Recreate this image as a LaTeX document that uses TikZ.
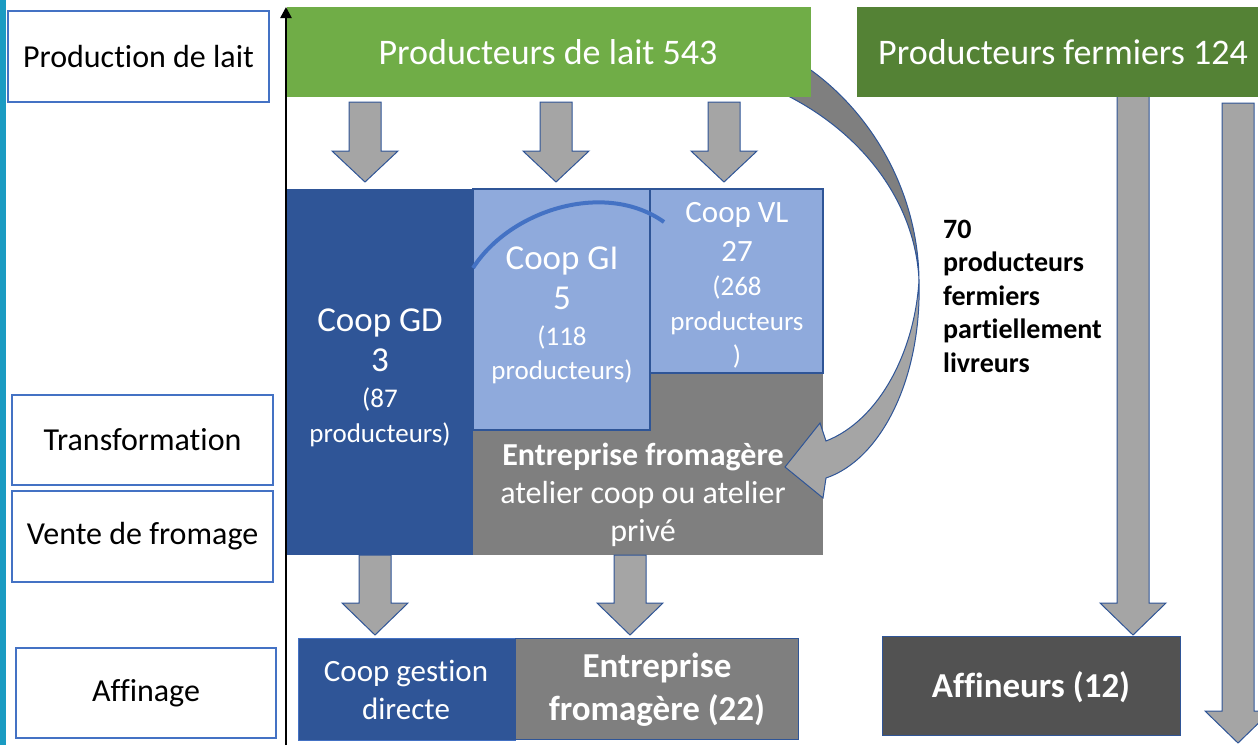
\documentclass[tikz,border=0pt]{standalone}
\usepackage{fontspec}
\setmainfont{Carlito}[Ligatures=NoCommon]
\usetikzlibrary{arrows.meta}
\definecolor{lgreen}{HTML}{70AD47}
\definecolor{dgreen}{HTML}{548235}
\definecolor{cblue}{HTML}{2F5597}
\definecolor{lblue}{HTML}{8FAADC}
\definecolor{mgray}{HTML}{7F7F7F}
\definecolor{agray}{HTML}{A5A5A5}
\definecolor{dgray}{HTML}{525252}
\definecolor{bord}{HTML}{4472C4}
\definecolor{stripc}{HTML}{1A9BC2}
\newcommand\fs[2]{\fontsize{#1}{#2}\selectfont}
\newcommand\blockarrow[4]{%
  \draw[barrow] ({#1-16},#2) -- ({#1+16},#2) -- ({#1+16},#3) -- ({#1+33},#3)
    -- (#1,#4) -- ({#1-33},#3) -- ({#1-16},#3) -- cycle;}
\tikzset{
  labbox/.style={draw=bord, line width=1.3pt, fill=white, inner sep=0pt, font=\fs{32}{38}},
  barrow/.style={fill=agray, draw=cblue, line width=1pt, line join=miter},
  area/.style={inner sep=0pt, outer sep=0pt, anchor=north west},
  wtxt/.style={text=white, align=center, inner sep=0pt},
}
\begin{document}
\begin{tikzpicture}[x=1pt,y=-1pt]
\useasboundingbox (0,0) rectangle (1258,745);
\fill[stripc] (0,0) rectangle (6,745);
% label boxes
\node[labbox, minimum width=261pt, minimum height=91pt] (lab1) at (138.5,56.5) {Production de lait};
\node[labbox, minimum width=261pt, minimum height=90pt] (lab2) at (142.5,440) {Transformation};
\node[labbox, minimum width=261pt, minimum height=91pt] (lab3) at (142.5,536.5) {Vente de fromage};
\node[labbox, minimum width=260pt, minimum height=90pt] (lab4) at (146,693) {Affinage};
% curved arrow, back part (behind green box)
\draw[fill=mgray, draw=cblue, line width=1pt]
  (805,66) .. controls (870,110) and (918,190) .. (919,280)
  .. controls (915,200) and (860,130) .. (780,92) -- cycle;
% right column arrows
\blockarrow{1133}{90}{603}{635}
\blockarrow{1238}{103}{711}{743}
% green boxes
\node[area, fill=lgreen, minimum width=524pt, minimum height=90pt] (prod) at (287,7) {};
\node[wtxt, font=\fs{36}{43}] (prodt) at (548,52) {Producteurs de lait 543};
\node[area, fill=dgreen, minimum width=401pt, minimum height=90pt] (ferm) at (857,7) {};
\node[wtxt, font=\fs{36}{43}] (fermt) at (1063,52) {Producteurs fermiers 124};
% top arrows
\blockarrow{365}{102}{151}{182}
\blockarrow{556}{102}{151}{182}
\blockarrow{724}{102}{151}{182}
% cooperatives
\node[area, fill=cblue, minimum width=186pt, minimum height=366pt] (gd) at (287,189) {};
\node[area, fill=mgray, minimum width=350pt, minimum height=182pt] (ent) at (473,373) {};
\node[area, fill=lblue, draw=cblue, line width=1.3pt, minimum width=177pt, minimum height=241pt] (gi) at (473,189) {};
\node[area, fill=lblue, draw=cblue, line width=1.3pt, minimum width=173pt, minimum height=184pt] (vl) at (650,189) {};
\draw[bord, line width=4pt] (473,268) .. controls (510,210) and (605,180) .. (664,222);
\node[wtxt, font=\fs{35}{40}] (gdA) at (380,340) {Coop GD\\3};
\node[wtxt, font=\fs{27}{35}] (gdB) at (380,417) {(87\\producteurs)};
\node[wtxt, font=\fs{35}{40}] (giA) at (562,278) {Coop GI\\5};
\node[wtxt, font=\fs{27}{34}] (giB) at (562,355) {(118\\producteurs)};
\node[wtxt, font=\fs{31}{39}] (vlA) at (737,232) {Coop VL\\27};
\node[wtxt, font=\fs{27}{34.5}] (vlB) at (737,322) {(268\\producteurs\\)};
\node[wtxt, font=\fs{32}{38}] (entt) at (643,495) {\textbf{Entreprise fromagère}\\atelier coop ou atelier\\privé};
% curved arrow, front part with head
\draw[fill=agray, draw=cblue, line width=1pt, line join=miter]
  (919,280) .. controls (915,350) and (880,420) .. (826,441)
  -- (820,423) -- (785,467) -- (823,498) -- (826,478)
  .. controls (880,460) and (922,380) .. (919,280) -- cycle;
% side text
\node[anchor=west, align=left, inner sep=0pt, font=\bfseries\fs{28}{33.5}] (part) at (943,296)
  {70\\producteurs\\fermiers\\partiellement\\livreurs};
% bottom arrows
\blockarrow{375}{555}{603}{635}
\blockarrow{630}{555}{603}{635}
% bottom boxes
\node[area, fill=cblue, draw=bord, line width=0.8pt, minimum width=217pt, minimum height=102pt] (cgd) at (298,638) {};
\node[area, fill=mgray, draw=cblue, line width=0.8pt, minimum width=283pt, minimum height=101pt] (efr) at (515,638) {};
\node[area, fill=dgray, draw=cblue, line width=1pt, minimum width=298pt, minimum height=99pt] (aff) at (882,636) {};
\node[wtxt, font=\fs{31}{38}] (cgdt) at (406,690) {Coop gestion\\directe};
\node[wtxt, font=\bfseries\fs{35}{43}] (efrt) at (657,689.5) {Entreprise\\fromagère (22)};
\node[wtxt, font=\bfseries\fs{35}{42}] (afft) at (1031,687) {Affineurs (12)};
% axis
\coordinate (axb) at (286,745);
\coordinate (axt) at (286,7);
\draw[line width=2.5pt, -{Triangle[width=11pt,length=11pt]}] (axb) -- (axt);
\end{tikzpicture}
\end{document}
